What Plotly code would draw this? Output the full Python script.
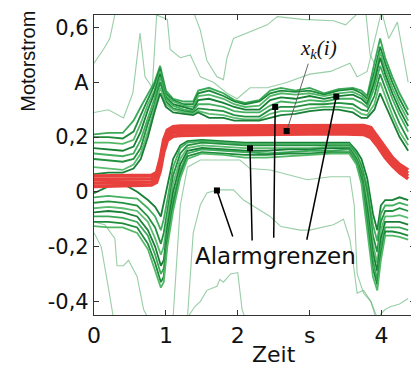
import plotly.graph_objects as go

# ---------------- data ----------------
X_TICKS = [0, 1, 2, 3, 4]
X_TICKTEXT = ["0", "1", "2", "s", "4"]
Y_TICKS = [-0.4, -0.2, 0, 0.2, 0.4, 0.6]
Y_TICKTEXT = ["-0,4", "-0,2", "0", "0,2", "A", "0,6"]

# upper alarm limits (green bundle)
X_U = [0.0, 0.2, 0.4, 0.55, 0.65, 0.75, 0.84, 0.92, 1.0, 1.1, 1.25, 1.38, 1.45, 1.6, 1.8, 1.95, 2.1,
       2.3, 2.45, 2.6, 2.8, 3.0, 3.2, 3.4, 3.6, 3.72, 3.8, 3.9, 3.98, 4.05, 4.15, 4.25, 4.37]
U1 = [0.21, 0.215, 0.215, 0.26, 0.31, 0.36, 0.40, 0.46, 0.37, 0.34, 0.33, 0.33, 0.37, 0.38, 0.36, 0.335, 0.325,
      0.335, 0.37, 0.38, 0.37, 0.38, 0.36, 0.375, 0.38, 0.37, 0.35, 0.47, 0.56, 0.49, 0.42, 0.36, 0.30]
U2 = [0.20, 0.20, 0.195, 0.22, 0.28, 0.34, 0.39, 0.45, 0.36, 0.335, 0.32, 0.32, 0.36, 0.37, 0.35, 0.33, 0.32,
      0.33, 0.36, 0.37, 0.365, 0.37, 0.355, 0.37, 0.375, 0.36, 0.34, 0.44, 0.53, 0.47, 0.40, 0.34, 0.28]
U3 = [0.18, 0.18, 0.175, 0.19, 0.25, 0.32, 0.37, 0.44, 0.35, 0.33, 0.315, 0.31, 0.35, 0.355, 0.34, 0.32, 0.31,
      0.315, 0.35, 0.36, 0.355, 0.36, 0.35, 0.36, 0.365, 0.35, 0.33, 0.42, 0.51, 0.45, 0.38, 0.32, 0.26]
U4 = [0.16, 0.155, 0.15, 0.165, 0.22, 0.30, 0.36, 0.43, 0.345, 0.32, 0.31, 0.30, 0.335, 0.34, 0.325, 0.31, 0.30,
      0.30, 0.335, 0.345, 0.34, 0.35, 0.34, 0.35, 0.355, 0.34, 0.32, 0.40, 0.49, 0.43, 0.36, 0.30, 0.24]
U5 = [0.14, 0.135, 0.13, 0.14, 0.19, 0.27, 0.34, 0.42, 0.34, 0.315, 0.30, 0.295, 0.32, 0.32, 0.31, 0.295, 0.29,
      0.29, 0.315, 0.33, 0.325, 0.335, 0.33, 0.34, 0.34, 0.325, 0.31, 0.38, 0.46, 0.41, 0.34, 0.28, 0.22]
U6 = [0.12, 0.115, 0.11, 0.12, 0.16, 0.25, 0.32, 0.40, 0.33, 0.305, 0.295, 0.29, 0.305, 0.30, 0.295, 0.28, 0.275,
      0.275, 0.30, 0.31, 0.31, 0.32, 0.32, 0.325, 0.32, 0.30, 0.295, 0.35, 0.43, 0.38, 0.31, 0.25, 0.19]
U7 = [0.09, 0.085, 0.08, 0.10, 0.14, 0.22, 0.30, 0.38, 0.32, 0.30, 0.29, 0.285, 0.295, 0.285, 0.28, 0.27, 0.265,
      0.265, 0.285, 0.295, 0.295, 0.305, 0.31, 0.31, 0.305, 0.285, 0.28, 0.32, 0.40, 0.35, 0.28, 0.22, 0.17]
U8 = [0.065, 0.07, 0.07, 0.085, 0.12, 0.20, 0.29, 0.36, 0.31, 0.29, 0.285, 0.28, 0.29, 0.27, 0.27, 0.26, 0.26,
      0.26, 0.27, 0.28, 0.285, 0.295, 0.30, 0.30, 0.29, 0.27, 0.27, 0.30, 0.36, 0.32, 0.26, 0.20, 0.15]

# lower alarm limits (green bundle)
X_L = [0.0, 0.2, 0.4, 0.6, 0.75, 0.85, 0.93, 0.97, 1.02, 1.1, 1.2, 1.3, 1.5, 1.8, 2.1, 2.4, 2.7, 3.0, 3.3,
       3.55, 3.65, 3.72, 3.8, 3.88, 3.94, 3.99, 4.05, 4.15, 4.25, 4.37]
L1 = [-0.005, 0.02, 0.03, 0.0, -0.03, -0.055, -0.09, -0.04, 0.02, 0.12, 0.17, 0.185, 0.19, 0.185, 0.18, 0.18,
      0.18, 0.18, 0.18, 0.18, 0.15, 0.12, 0.05, -0.08, -0.14, -0.05, -0.03, -0.03, -0.02, -0.03]
L2 = [-0.02, -0.015, -0.02, -0.025, -0.06, -0.09, -0.14, -0.10, -0.03, 0.09, 0.16, 0.18, 0.185, 0.18, 0.175,
      0.175, 0.175, 0.175, 0.175, 0.175, 0.14, 0.10, 0.02, -0.12, -0.18, -0.08, -0.05, -0.05, -0.04, -0.05]
L3 = [-0.04, -0.035, -0.04, -0.05, -0.09, -0.13, -0.19, -0.15, -0.07, 0.06, 0.14, 0.17, 0.18, 0.175, 0.17,
      0.17, 0.17, 0.17, 0.17, 0.17, 0.135, 0.09, 0.0, -0.16, -0.22, -0.11, -0.07, -0.07, -0.06, -0.07]
L4 = [-0.06, -0.055, -0.06, -0.07, -0.11, -0.17, -0.23, -0.20, -0.10, 0.03, 0.12, 0.16, 0.17, 0.165, 0.16,
      0.16, 0.16, 0.16, 0.165, 0.165, 0.13, 0.08, -0.03, -0.19, -0.26, -0.14, -0.09, -0.09, -0.085, -0.095]
L5 = [-0.075, -0.07, -0.075, -0.09, -0.14, -0.20, -0.27, -0.25, -0.13, 0.0, 0.10, 0.15, 0.16, 0.155, 0.15,
      0.15, 0.155, 0.155, 0.16, 0.16, 0.12, 0.07, -0.06, -0.22, -0.29, -0.17, -0.11, -0.11, -0.11, -0.12]
L6 = [-0.09, -0.09, -0.095, -0.11, -0.16, -0.23, -0.30, -0.28, -0.16, -0.03, 0.08, 0.14, 0.155, 0.15, 0.145,
      0.14, 0.145, 0.15, 0.15, 0.155, 0.115, 0.06, -0.09, -0.25, -0.32, -0.20, -0.13, -0.13, -0.13, -0.14]
L7 = [-0.11, -0.11, -0.115, -0.13, -0.19, -0.26, -0.33, -0.31, -0.18, -0.05, 0.065, 0.13, 0.145, 0.14, 0.135,
      0.135, 0.14, 0.14, 0.145, 0.145, 0.105, 0.045, -0.12, -0.28, -0.34, -0.23, -0.145, -0.145, -0.15, -0.16]
L8 = [-0.125, -0.13, -0.13, -0.15, -0.21, -0.29, -0.35, -0.33, -0.20, -0.07, 0.05, 0.12, 0.14, 0.135, 0.125,
      0.125, 0.13, 0.135, 0.14, 0.14, 0.10, 0.03, -0.15, -0.31, -0.36, -0.25, -0.16, -0.16, -0.165, -0.175]

# measured signal x_k(i) (red bundle)
X_R = [0.0, 0.4, 0.8, 0.87, 0.92, 0.97, 1.02, 1.1, 1.2, 1.5, 2.0, 2.5, 3.0, 3.5, 3.75, 3.85, 3.95, 4.05,
       4.15, 4.25, 4.37]
R1 = [0.058, 0.058, 0.06, 0.07, 0.12, 0.19, 0.225, 0.238, 0.24, 0.24, 0.24, 0.242, 0.243, 0.242, 0.242,
      0.235, 0.2, 0.16, 0.125, 0.1, 0.08]
R2 = [0.045, 0.045, 0.048, 0.058, 0.105, 0.175, 0.212, 0.226, 0.229, 0.23, 0.23, 0.232, 0.233, 0.232, 0.232,
      0.222, 0.188, 0.148, 0.115, 0.09, 0.068]
R3 = [0.032, 0.033, 0.036, 0.046, 0.09, 0.16, 0.2, 0.215, 0.218, 0.219, 0.22, 0.221, 0.222, 0.222, 0.221,
      0.21, 0.176, 0.137, 0.105, 0.08, 0.058]
R4 = [0.02, 0.022, 0.025, 0.035, 0.075, 0.145, 0.188, 0.203, 0.206, 0.208, 0.21, 0.21, 0.211, 0.211, 0.21,
      0.198, 0.165, 0.126, 0.095, 0.07, 0.048]

# faint (outlier) limit curves
FA_X = [0.0, 0.13, 0.22, 0.3]
FA_Y = [0.47, 0.52, 0.56, 0.66]
FB_X = [0.0, 0.2, 0.41, 0.54, 0.64, 0.71, 0.81, 0.87, 0.9]
FB_Y = [0.29, 0.30, 0.27, 0.36, 0.58, 0.42, 0.38, 0.64, 0.66]
FC_X = [1.38, 1.48, 1.57, 1.71, 1.8, 1.85, 1.94, 2.13, 2.22, 2.41, 2.55, 2.9, 3.33, 3.5, 3.7]
FC_Y = [0.66, 0.59, 0.48, 0.42, 0.41, 0.49, 0.56, 0.58, 0.59, 0.61, 0.64, 0.63, 0.625, 0.61, 0.66]
FD_X = [0.74, 1.02, 1.06, 1.2, 1.34, 1.48, 1.66, 1.85, 1.99, 2.17, 2.41, 2.69, 3.0, 3.29, 3.56, 3.66, 3.8, 3.94, 4.0]
FD_Y = [0.66, 0.63, 0.52, 0.49, 0.5, 0.42, 0.40, 0.36, 0.34, 0.38, 0.38, 0.40, 0.43, 0.44, 0.47, 0.42, 0.44, 0.59, 0.66]
FJ_X = [3.78, 3.84, 3.9]
FJ_Y = [0.66, 0.5, 0.47]
FK_X = [4.0, 4.1, 4.22, 4.3, 4.37]
FK_Y = [0.66, 0.56, 0.62, 0.5, 0.40]
FE_X = [0.0, 0.1, 0.2, 0.27]
FE_Y = [-0.15, -0.2, -0.35, -0.46]
FF_X = [0.0, 0.15, 0.29, 0.32, 0.41, 0.48, 0.6, 0.69, 0.75]
FF_Y = [-0.11, -0.12, -0.17, -0.27, -0.27, -0.25, -0.31, -0.43, -0.46]
FG_X = [1.1, 1.2, 1.3, 1.48, 2.03, 2.17, 2.45, 2.73, 2.97, 3.29, 3.56, 3.62, 3.66, 3.75, 3.85, 3.94]
FG_Y = [-0.46, -0.05, 0.09, 0.116, 0.116, 0.085, 0.08, 0.06, 0.044, 0.055, 0.055, -0.05, -0.3, -0.37, -0.4, -0.46]
FH_X = [1.3, 1.38, 1.48, 1.57, 1.71, 1.94, 2.08, 2.27, 2.45, 2.6, 2.87, 3.0, 3.33, 3.47, 3.56, 3.61, 3.66,
        3.75, 3.85, 3.92]
FH_Y = [-0.46, -0.15, -0.047, -0.004, 0.007, 0.007, -0.03, -0.06, -0.09, -0.127, -0.14, -0.14, -0.12, -0.1,
        -0.175, -0.27, -0.37, -0.36, -0.4, -0.46]
FI_X = [1.3, 1.4, 1.48, 1.57, 1.71, 1.75, 1.8, 1.9, 2.0, 2.06, 2.1]
FI_Y = [-0.46, -0.42, -0.40, -0.36, -0.345, -0.32, -0.33, -0.30, -0.295, -0.43, -0.46]
FR_X = [3.94, 4.05, 4.12, 4.25, 4.37]
FR_Y = [-0.46, -0.43, -0.42, -0.41, -0.39]

# "Alarmgrenzen" pointers: (marker x, marker y, label-end x, label-end y)
PTR_X0 = [1.71, 2.17, 2.52, 3.37]
PTR_Y0 = [0.005, 0.159, 0.31, 0.348]
PTR_X1 = [1.93, 2.20, 2.50, 2.96]
PTR_Y1 = [-0.163, -0.178, -0.168, -0.175]
# x_k(i) pointer
XK_X = [2.68, 2.98]
XK_Y = [0.222, 0.468]

# ---------------- figure ----------------
fig = go.Figure()

faint = [(FA_X, FA_Y), (FB_X, FB_Y), (FC_X, FC_Y), (FD_X, FD_Y), (FJ_X, FJ_Y), (FK_X, FK_Y),
         (FE_X, FE_Y), (FF_X, FF_Y), (FG_X, FG_Y), (FH_X, FH_Y), (FI_X, FI_Y), (FR_X, FR_Y)]
for fx, fy in faint:
    fig.add_trace(go.Scatter(x=fx, y=fy, mode="lines",
                             line=dict(color="rgba(70,165,95,0.55)", width=1.1), hoverinfo="skip"))

greens = ["#3aa857", "#1e8a3b", "#52b868", "#168034", "#44af5e", "#23913f", "#5cbc70", "#1a7f36"]
for i, yy in enumerate([U1, U2, U3, U4, U5, U6, U7, U8]):
    fig.add_trace(go.Scatter(x=X_U, y=yy, mode="lines",
                             line=dict(color=greens[i], width=1.8), hoverinfo="skip"))
for i, yy in enumerate([L1, L2, L3, L4, L5, L6, L7, L8]):
    fig.add_trace(go.Scatter(x=X_L, y=yy, mode="lines",
                             line=dict(color=greens[(i + 3) % 8], width=1.8), hoverinfo="skip"))
for yy in [R1, R2, R3, R4]:
    fig.add_trace(go.Scatter(x=X_R, y=yy, mode="lines",
                             line=dict(color="#e8403c", width=3.6), hoverinfo="skip"))

# pointer lines
for x0, y0, x1, y1 in zip(PTR_X0, PTR_Y0, PTR_X1, PTR_Y1):
    fig.add_trace(go.Scatter(x=[x0, x1], y=[y0, y1], mode="lines",
                             line=dict(color="black", width=1.5), hoverinfo="skip"))
fig.add_trace(go.Scatter(x=XK_X, y=XK_Y, mode="lines",
                         line=dict(color="#555", width=0.9), hoverinfo="skip"))
fig.add_trace(go.Scatter(x=PTR_X0 + XK_X[:1], y=PTR_Y0 + XK_Y[:1], mode="markers",
                         marker=dict(symbol="square", size=6, color="black"), hoverinfo="skip"))

fig.add_annotation(x=2.53, y=-0.234, xref="x", yref="y", text="Alarmgrenzen", showarrow=False,
                   xanchor="center", yanchor="middle",
                   font=dict(family="DejaVu Sans", size=23, color="#111"))
fig.add_annotation(x=3.12, y=0.52, xref="x", yref="y", text="<i>x<sub>k</sub>(i)</i>", showarrow=False,
                   xanchor="center", yanchor="middle",
                   font=dict(family="Liberation Serif", size=21, color="#111"))
fig.add_annotation(x=2.51, y=-0.133, xref="x", yref="paper", text="Zeit", showarrow=False,
                   xanchor="center", yanchor="middle",
                   font=dict(family="DejaVu Sans", size=22, color="#111"))
fig.add_annotation(x=-0.206, y=0.847, xref="paper", yref="paper", text="Motorstrom", showarrow=False,
                   xanchor="center", yanchor="middle", textangle=-90,
                   font=dict(family="Liberation Sans", size=20, color="#111"))

axis_common = dict(ticks="inside", ticklen=5, tickcolor="#333", showline=True, linecolor="#333",
                   linewidth=1.2, mirror="ticks", showgrid=False, zeroline=False, automargin=False)
fig.update_xaxes(range=[0, 4.465], tickvals=X_TICKS, ticktext=X_TICKTEXT,
                 tickfont=dict(family="DejaVu Sans", size=22, color="#111"), **axis_common)
fig.update_yaxes(range=[-0.45, 0.646], tickvals=Y_TICKS, ticktext=Y_TICKTEXT,
                 tickfont=dict(family="DejaVu Sans", size=21, color="#111"), **axis_common)

# the page body adds an 8 px offset, so the figure is 8 px smaller and margins shifted
fig.update_layout(width=411, height=366, margin=dict(l=86, r=4, t=7, b=59),
                  plot_bgcolor="white", paper_bgcolor="white", showlegend=False)

fig.write_html("out.html")
